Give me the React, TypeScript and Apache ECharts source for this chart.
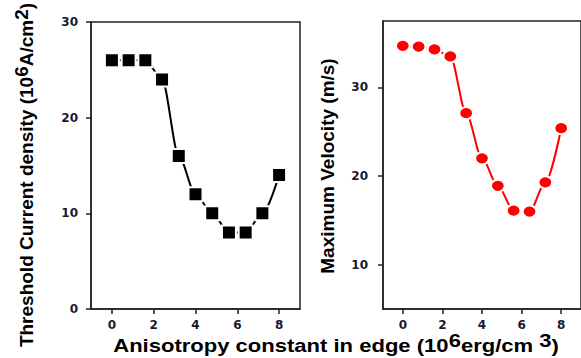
import React, { useEffect, useRef } from "react";
import * as echarts from "echarts";

const anisotropy = [0, 0.8, 1.6, 2.4, 3.2, 4.0, 4.8, 5.6, 6.4, 7.2, 8.0];
const thresholdCurrent = [26, 26, 26, 24, 16, 12, 10, 8, 8, 10, 14];
const maxVelocity = [34.7, 34.6, 34.3, 33.5, 27.1, 22.0, 18.9, 16.1, 16.0, 19.3, 25.4];
const xTicks = [0, 2, 4, 6, 8];
const velocityTicks = [10, 20, 30];

const FONT = "'Liberation Sans', Arial, sans-serif";
const TICK_FONT = "'DejaVu Sans', sans-serif";
const LABEL_COLOR = "#181830";

export default function App() {
  const ref = useRef<HTMLDivElement>(null);
  useEffect(() => {
    if (!ref.current) return;
    const chart = echarts.init(ref.current, null, { renderer: "svg" });
    const axisLine = { show: true, onZero: false, lineStyle: { color: "#222", width: 1.5 } };
    const axisTick = { show: true, inside: false, length: 5, lineStyle: { color: "#222", width: 1.5 } };
    const labelStyle = { fontFamily: TICK_FONT, fontWeight: "bold" as const, fontSize: 12, color: LABEL_COLOR };
    chart.setOption({
      animation: false,
      backgroundColor: "#fff",
      grid: [
        { left: 91, top: 22, width: 209, height: 287, show: true, borderColor: "#222", borderWidth: 1.5 },
        { left: 383, top: 21, width: 207, height: 288, show: true, borderColor: "#222", borderWidth: 1.5 },
      ],
      xAxis: [0, 1].map((g) => ({
        gridIndex: g, type: "value", min: -1, max: 9,
        axisLine, splitLine: { show: false },
        axisTick: { ...axisTick, customValues: xTicks },
        axisLabel: { ...labelStyle, margin: 10, customValues: xTicks },
      })),
      yAxis: [
        {
          gridIndex: 0, type: "value", min: 0, max: 30, interval: 10,
          axisLine, axisTick, splitLine: { show: false },
          axisLabel: { ...labelStyle, margin: 13 },
        },
        {
          gridIndex: 1, type: "value", min: 5, max: 37.5,
          axisLine, splitLine: { show: false },
          axisTick: { ...axisTick, customValues: velocityTicks },
          axisLabel: { ...labelStyle, margin: 15, customValues: velocityTicks },
        },
      ],
      series: [
        {
          type: "line", xAxisIndex: 0, yAxisIndex: 0,
          data: anisotropy.map((x, i) => [x, thresholdCurrent[i]]),
          smooth: 0.3, smoothMonotone: "x",
          symbol: "rect", symbolSize: 14,
          lineStyle: { color: "#000", width: 2 },
          itemStyle: { color: "#000", borderColor: "#fff", borderWidth: 2 },
          z: 3,
        },
        {
          type: "line", xAxisIndex: 1, yAxisIndex: 1,
          data: anisotropy.map((x, i) => [x, maxVelocity[i]]),
          smooth: 0.3, smoothMonotone: "x",
          symbol: "circle", symbolSize: [14, 12],
          lineStyle: { color: "#ff0000", width: 2 },
          itemStyle: { color: "#ff0000", borderColor: "#fff", borderWidth: 2 },
          z: 3,
        },
      ],
      graphic: [
        {
          type: "text", x: 26, y: 175, rotation: Math.PI / 2,
          style: {
            text: "Threshold Current density (10{sup|6}A/cm{sup|2})",
            fontFamily: FONT, fontWeight: "bold", fontSize: 19, fill: "#000",
            align: "center", verticalAlign: "middle",
            rich: { sup: { fontFamily: FONT, fontWeight: "bold", fontSize: 19, fill: "#000", padding: [0, 0, 10, 0] } },
          },
        },
        {
          type: "text", x: 327, y: 166, rotation: Math.PI / 2,
          style: {
            text: "Maximum Velocity (m/s)",
            fontFamily: FONT, fontWeight: "bold", fontSize: 19, fill: "#000",
            align: "center", verticalAlign: "middle",
          },
        },
        {
          type: "text", x: 336, y: 345, scaleX: 1.16,
          style: {
            text: "Anisotropy constant in edge (10{sup|6}erg/cm {sup|3})",
            fontFamily: FONT, fontWeight: "bold", fontSize: 19, fill: "#000",
            align: "center", verticalAlign: "middle",
            rich: { sup: { fontFamily: FONT, fontWeight: "bold", fontSize: 19, fill: "#000", padding: [0, 0, 10, 0] } },
          },
        },
      ],
    });
    return () => chart.dispose();
  }, []);
  return (
    <div style={{ position: "absolute", left: 0, top: 0, width: 581, height: 358, overflow: "hidden", background: "#fff" }}>
      <div ref={ref} style={{ width: 581, height: 358 }} />
    </div>
  );
}
